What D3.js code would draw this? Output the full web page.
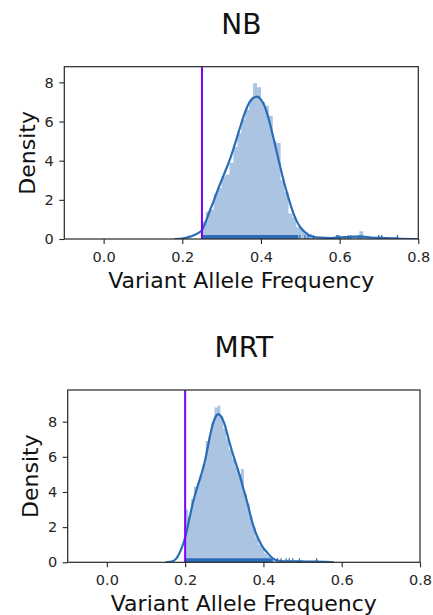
<!DOCTYPE html>
<html>
<head>
<meta charset="utf-8">
<script src="https://cdn.jsdelivr.net/npm/d3@7"></script>
<style>
  body { margin: 0; background: #fff; }
  svg { display: block; font-family: "DejaVu Sans", sans-serif; }
</style>
</head>
<body>
<div id="chart"></div>
<script>
// ---- data ----
const panelTitles = ["NB", "MRT"];
const xLabel = "Variant Allele Frequency";
const yLabel = "Density";
const xTicks = [0.0, 0.2, 0.4, 0.6, 0.8];
const yTicks = [0, 2, 4, 6, 8];
const xDomain = [-0.1, 0.8];
const yMaxes = [8.8, 9.8];
const thresholds = [0.25, 0.2];

// histogram: first bin edge, bin width, densities
const nbBinStart = 0.25, nbBinWidth = 0.01;
const nbHist = [0.9, 1.4, 1.5, 2.3, 2.6, 3.2, 3.3, 3.9, 4.7, 5.4,
                6.1, 6.6, 7.1, 7.95, 7.75, 7.0, 6.8, 6.3, 5.0, 4.9,
                3.0, 2.4, 1.3, 1.1, 0.6, 0.5, 0.35, 0.25, 0.1, 0.05,
                0.05, 0, 0, 0.05, 0.2, 0.05, 0.05, 0.15, 0.1, 0.1,
                0.4, 0.15, 0.05, 0.05, 0.1, 0.15, 0, 0.05, 0, 0.1];

const mrtBinStart = 0.2, mrtBinWidth = 0.0075;
const mrtHist = [3.0, 2.6, 3.6, 4.3, 4.5, 5.0, 5.6, 6.9, 7.2, 8.0,
                 8.8, 8.9, 8.3, 7.6, 7.0, 6.4, 5.9, 5.4, 5.0, 5.3,
                 3.9, 3.3, 2.6, 2.0, 1.4, 1.0, 0.8, 0.5, 0.35, 0.2,
                 0.1, 0.05, 0.1, 0.05, 0.1, 0.05, 0, 0.05, 0.1, 0,
                 0.05, 0, 0.05, 0, 0.1, 0, 0, 0, 0, 0.05];

// kde curves
const nbKdeX = [0.18, 0.20, 0.22, 0.24, 0.25, 0.26, 0.27, 0.28, 0.29, 0.30,
                0.31, 0.32, 0.33, 0.34, 0.35, 0.36, 0.37, 0.38, 0.39, 0.40,
                0.41, 0.42, 0.43, 0.44, 0.45, 0.46, 0.47, 0.48, 0.49, 0.50,
                0.51, 0.52, 0.53, 0.55, 0.58, 0.60, 0.62, 0.64, 0.66, 0.68,
                0.70, 0.72, 0.74, 0.76, 0.80];
const nbKdeY = [0, 0.02, 0.12, 0.3, 0.46, 0.9, 1.45, 1.95, 2.5, 3.0,
                3.5, 4.0, 4.6, 5.25, 5.9, 6.5, 6.95, 7.2, 7.27, 7.12,
                6.75, 6.1, 5.3, 4.45, 3.6, 2.8, 2.1, 1.45, 0.95, 0.6,
                0.38, 0.22, 0.13, 0.07, 0.05, 0.08, 0.1, 0.12, 0.12, 0.07,
                0.06, 0.04, 0.03, 0.01, 0];

const mrtKdeX = [0.15, 0.16, 0.17, 0.18, 0.19, 0.20, 0.21, 0.22, 0.23, 0.24,
                 0.25, 0.26, 0.27, 0.28, 0.285, 0.29, 0.30, 0.31, 0.32, 0.33,
                 0.34, 0.35, 0.36, 0.37, 0.38, 0.39, 0.40, 0.41, 0.42, 0.43,
                 0.44, 0.46, 0.48, 0.50, 0.52, 0.54, 0.56, 0.58];
const mrtKdeY = [0, 0.02, 0.08, 0.3, 0.75, 1.4, 2.4, 3.4, 4.2, 4.9,
                 5.7, 6.8, 7.8, 8.35, 8.43, 8.35, 7.9, 7.1, 6.3, 5.6,
                 4.9, 4.1, 3.3, 2.4, 1.7, 1.2, 0.8, 0.55, 0.3, 0.15,
                 0.09, 0.06, 0.06, 0.05, 0.04, 0.04, 0.02, 0];

// rug: dense band plus sparse ticks
const nbRugBand = [0.25, 0.495];
const nbRugTicks = [0.499, 0.512, 0.520, 0.533, 0.593, 0.598, 0.622, 0.628,
                    0.648, 0.655, 0.699, 0.707, 0.747];
const mrtRugBand = [0.2, 0.424];
const mrtRugTicks = [0.436, 0.445, 0.458, 0.466, 0.475, 0.492, 0.536];

// ---- layout / style ----
const width = 433, height = 615;
const boxes = [
  { left: 64.3, right: 418.3, top: 66.7, bottom: 239 },
  { left: 67.7, right: 420, top: 390, bottom: 562.3 }
];
const mainColor = "#2a6cb6";
const lineColor = "#7b00ff";
const inkColor = "#262626";

const panels = [
  { title: panelTitles[0], hist: nbHist, binStart: nbBinStart, binWidth: nbBinWidth,
    kdeX: nbKdeX, kdeY: nbKdeY, rugBand: nbRugBand, rugTicks: nbRugTicks,
    yMax: yMaxes[0], threshold: thresholds[0], box: boxes[0] },
  { title: panelTitles[1], hist: mrtHist, binStart: mrtBinStart, binWidth: mrtBinWidth,
    kdeX: mrtKdeX, kdeY: mrtKdeY, rugBand: mrtRugBand, rugTicks: mrtRugTicks,
    yMax: yMaxes[1], threshold: thresholds[1], box: boxes[1] }
];

const svg = d3.select("#chart")
  .append("svg")
  .attr("width", width)
  .attr("height", height)
  .attr("viewBox", `0 0 ${width} ${height}`);

panels.forEach((p, i) => drawPanel(p, i));

function drawPanel(p, idx) {
  const b = p.box;
  const x = d3.scaleLinear().domain(xDomain).range([b.left, b.right]);
  const y = d3.scaleLinear().domain([0, p.yMax]).range([b.bottom, b.top]);

  const g = svg.append("g");

  svg.append("clipPath").attr("id", "clip" + idx)
    .append("rect")
    .attr("x", b.left).attr("y", b.top)
    .attr("width", b.right - b.left).attr("height", b.bottom - b.top);

  const plot = g.append("g").attr("clip-path", `url(#clip${idx})`);

  // histogram as one stepped area (no seams between bars)
  const steps = p.hist.map((v, i) => [p.binStart + i * p.binWidth, v]);
  steps.push([p.binStart + p.hist.length * p.binWidth, p.hist[p.hist.length - 1]]);
  plot.append("path")
    .datum(steps)
    .attr("fill", mainColor)
    .attr("fill-opacity", 0.4)
    .attr("d", d3.area()
      .x(d => x(d[0]))
      .y0(y(0))
      .y1(d => y(d[1]))
      .curve(d3.curveStepAfter));

  // kde
  const kde = p.kdeX.map((v, i) => [v, p.kdeY[i]]);
  plot.append("path")
    .datum(kde)
    .attr("fill", "none")
    .attr("stroke", mainColor)
    .attr("stroke-width", 2.2)
    .attr("stroke-linejoin", "round")
    .attr("d", d3.line().x(d => x(d[0])).y(d => y(d[1])).curve(d3.curveMonotoneX));

  // rug
  const rugH = 4;
  plot.append("rect")
    .attr("x", x(p.rugBand[0]))
    .attr("width", x(p.rugBand[1]) - x(p.rugBand[0]))
    .attr("y", y(0) - rugH)
    .attr("height", rugH)
    .attr("fill", mainColor);
  plot.append("g")
    .selectAll("line")
    .data(p.rugTicks)
    .join("line")
    .attr("x1", d => x(d)).attr("x2", d => x(d))
    .attr("y1", y(0)).attr("y2", y(0) - rugH)
    .attr("stroke", mainColor)
    .attr("stroke-width", 1.2);

  // threshold line
  g.append("line")
    .attr("x1", x(p.threshold)).attr("x2", x(p.threshold))
    .attr("y1", b.top).attr("y2", b.bottom)
    .attr("stroke", lineColor)
    .attr("stroke-width", 2);

  // axes
  const xAxis = g.append("g")
    .attr("transform", `translate(0, ${b.bottom})`)
    .call(d3.axisBottom(x).tickValues(xTicks).tickFormat(d3.format(".1f"))
      .tickSize(5).tickPadding(7.7));
  const yAxis = g.append("g")
    .attr("transform", `translate(${b.left}, 0)`)
    .call(d3.axisLeft(y).tickValues(yTicks).tickFormat(d3.format("d"))
      .tickSize(5).tickPadding(5.5));

  [xAxis, yAxis].forEach(a => {
    a.select(".domain").remove();
    a.selectAll(".tick line").attr("stroke", inkColor).attr("stroke-width", 1.1);
    a.selectAll(".tick text")
      .attr("fill", inkColor)
      .style("font-size", "14.5px")
      .style("font-family", '"DejaVu Sans", sans-serif');
  });

  // spines
  g.append("rect")
    .attr("x", b.left).attr("y", b.top)
    .attr("width", b.right - b.left).attr("height", b.bottom - b.top)
    .attr("fill", "none")
    .attr("stroke", inkColor)
    .attr("stroke-width", 1.2);

  // labels
  g.append("text")
    .attr("x", (b.left + b.right) / 2)
    .attr("y", b.top - 32.7)
    .attr("text-anchor", "middle")
    .attr("fill", "#111")
    .style("font-size", "28px")
    .text(p.title);

  g.append("text")
    .attr("x", (b.left + b.right) / 2)
    .attr("y", b.bottom + 49)
    .attr("text-anchor", "middle")
    .attr("fill", "#111")
    .style("font-size", "22px")
    .text(xLabel);

  g.append("text")
    .attr("transform", `translate(${b.left - 29.5}, ${(b.top + b.bottom) / 2}) rotate(-90)`)
    .attr("text-anchor", "middle")
    .attr("fill", "#111")
    .style("font-size", "22px")
    .text(yLabel);
}
</script>
</body>
</html>
